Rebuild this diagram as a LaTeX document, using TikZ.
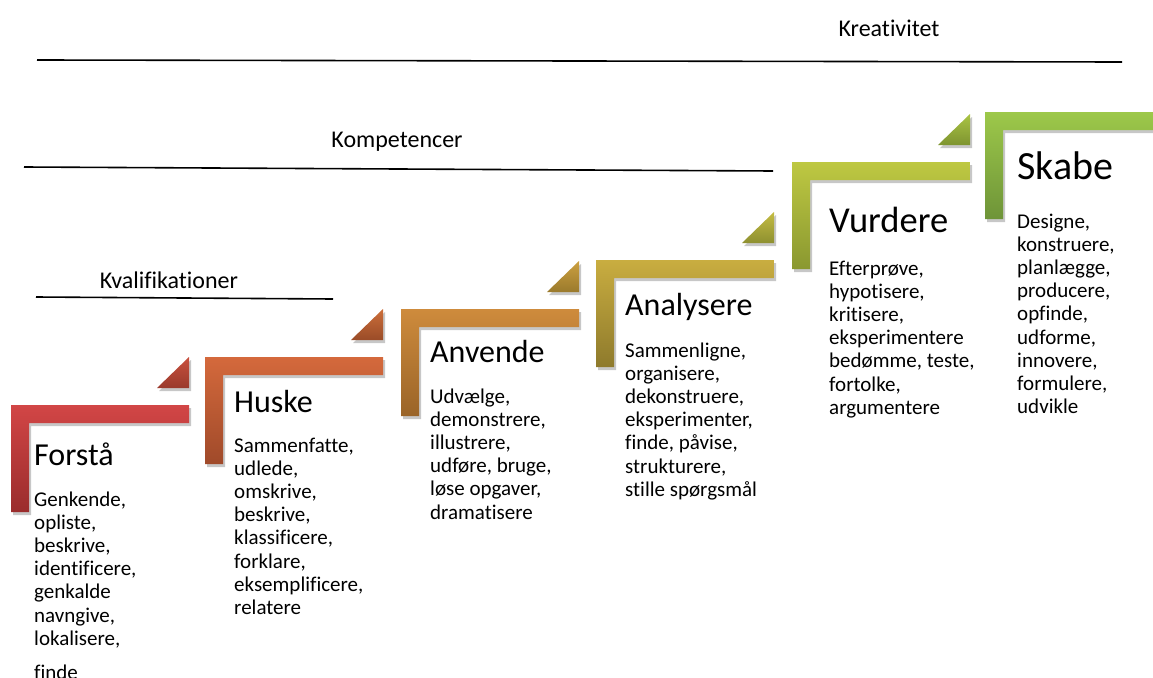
\documentclass[tikz,border=0pt]{standalone}
\usepackage{fontspec}
\setmainfont{Carlito}[Ligatures={NoCommon,NoContextual}]
\usetikzlibrary{shadows}
\definecolor{c1t}{HTML}{D24646}\definecolor{c1b}{HTML}{9A2C2C}
\definecolor{c2t}{HTML}{D4693C}\definecolor{c2b}{HTML}{A04A2A}
\definecolor{c3t}{HTML}{CE8B3C}\definecolor{c3b}{HTML}{9A6428}
\definecolor{c4t}{HTML}{C9AD40}\definecolor{c4b}{HTML}{8E7A2C}
\definecolor{c5t}{HTML}{BEC842}\definecolor{c5b}{HTML}{8A9830}
\definecolor{c6t}{HTML}{9DC84A}\definecolor{c6b}{HTML}{6E9438}
\definecolor{t1t}{HTML}{C8503E}\definecolor{t1b}{HTML}{9A3A2C}
\definecolor{t2t}{HTML}{CC6E3A}\definecolor{t2b}{HTML}{9A4C28}
\definecolor{t3t}{HTML}{CCA040}\definecolor{t3b}{HTML}{9A7A2C}
\definecolor{t4t}{HTML}{C4BC42}\definecolor{t4b}{HTML}{8E9030}
\definecolor{t5t}{HTML}{AAC444}\definecolor{t5b}{HTML}{7E9430}
\tikzset{
  shapeshadow/.style={drop shadow={shadow xshift=2pt,shadow yshift=-3pt,opacity=0.22,fill=black}},
  headtext/.style={anchor=base west,inner sep=0pt,font=\fontsize{32}{38}\selectfont},
  bodytext/.style={anchor=base west,inner sep=0pt,font=\fontsize{21}{23.2}\selectfont},
  leveltext/.style={inner sep=0pt,font=\fontsize{24}{28}\selectfont},
  levelline/.style={line width=1.6pt,black},
}
\newcommand\stepL[4]{%
  \path[shapeshadow,top color=#3,bottom color=#4] (#1,#2) -- ++(178,0) -- ++(0,18) -- ++(-160,0) -- ++(0,89) -- ++(-18,0) -- cycle;}
\newcommand\stepT[4]{%
  \path[shapeshadow,top color=#3,bottom color=#4] (#1+178,#2-17) -- ++(0,-31) -- ++(-32,31) -- cycle;}
\newcommand\blines[1]{\begin{tabular}[t]{@{}l@{}}#1\end{tabular}}
\begin{document}
\begin{tikzpicture}[x=1pt,y=-1pt]
\useasboundingbox (0,0) rectangle (1153,677);
% level lines and labels
\coordinate (kr1) at (37,60); \coordinate (kr2) at (1122,62);
\draw[levelline] (kr1) -- (kr2);
\node[leveltext] (kreativ) at (889,28) {Kreativitet};
\coordinate (ko1) at (24,167); \coordinate (ko2) at (773,171);
\draw[levelline] (ko1) -- (ko2);
\node[leveltext] (kompet) at (397,142) {Kompetencer};
\coordinate (kv1) at (36,297); \coordinate (kv2) at (333,299);
\draw[levelline] (kv1) -- (kv2);
\node[leveltext] (kvalif) at (169,280) {Kvalifikationer};
% steps
\stepL{11}{405}{c1t}{c1b}
\stepT{11}{405}{t1t}{t1b}
\stepL{205}{357}{c2t}{c2b}
\stepT{205}{357}{t2t}{t2b}
\stepL{401}{309}{c3t}{c3b}
\stepT{401}{309}{t3t}{t3b}
\stepL{596}{260}{c4t}{c4b}
\stepT{596}{260}{t4t}{t4b}
\stepL{792}{162}{c5t}{c5b}
\stepT{792}{162}{t5t}{t5b}
\stepL{985}{112}{c6t}{c6b}
% texts
\node[headtext] (h1) at (34,465) {Forstå};
\node[bodytext] (b1) at (34,506) {\blines{Genkende,\\opliste,\\beskrive,\\identificere,\\genkalde\\navngive,\\lokalisere,\\[11pt]finde}};
\node[headtext] (h2) at (234,412) {Huske};
\node[bodytext] (b2) at (234,452) {\blines{Sammenfatte,\\udlede,\\omskrive,\\beskrive,\\klassificere,\\forklare,\\eksemplificere,\\relatere}};
\node[headtext] (h3) at (430,362) {Anvende};
\node[bodytext] (b3) at (430,403) {\blines{Udvælge,\\demonstrere,\\illustrere,\\udføre, bruge,\\løse opgaver,\\dramatisere}};
\node[headtext] (h4) at (625,315) {Analysere};
\node[bodytext] (b4) at (625,357) {\blines{Sammenligne,\\organisere,\\dekonstruere,\\eksperimenter,\\finde, påvise,\\strukturere,\\stille spørgsmål}};
\node[headtext,font=\fontsize{36.5}{42}\selectfont] (h5) at (829,232) {Vurdere};
\node[bodytext] (b5) at (829,275) {\blines{Efterprøve,\\hypotisere,\\kritisere,\\eksperimentere\\bedømme, teste,\\fortolke,\\argumentere}};
\node[headtext,font=\fontsize{40}{46}\selectfont] (h6) at (1017,179) {Skabe};
\node[bodytext] (b6) at (1017,228) {\blines{Designe,\\konstruere,\\planlægge,\\producere,\\opfinde,\\udforme,\\innovere,\\formulere,\\udvikle}};
\end{tikzpicture}
\end{document}
